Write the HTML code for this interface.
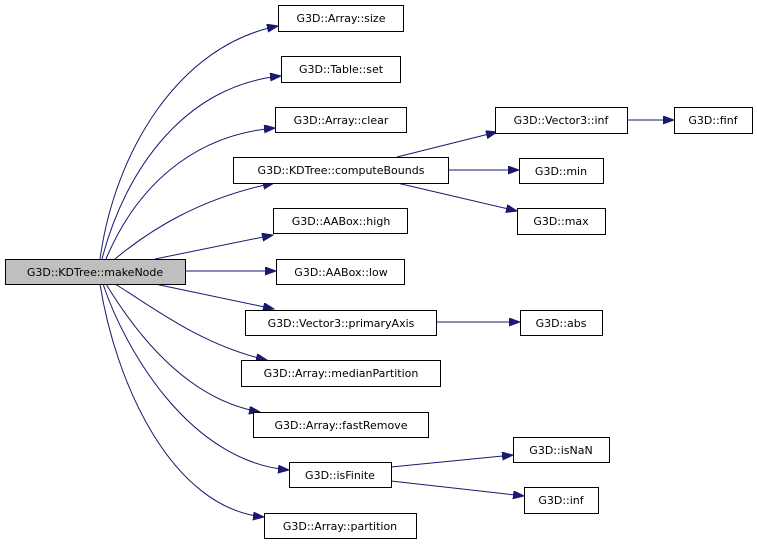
<!DOCTYPE html>
<html><head><meta charset="utf-8"><style>
html,body{margin:0;padding:0;background:#fff;}
svg{display:block;}
text{font-family:"DejaVu Sans","Liberation Sans",sans-serif;font-size:11px;fill:#000;}
rect{stroke:#000;stroke-width:1;fill:#fff;}
path.e{fill:none;stroke:#191970;stroke-width:1;}
</style></head><body>
<svg width="757" height="544" viewBox="0 0 757 544" xmlns="http://www.w3.org/2000/svg">
<defs>
<marker id="a" markerWidth="12" markerHeight="10" refX="11" refY="4" orient="auto" markerUnits="userSpaceOnUse">
<path d="M0,0 L11,4 L0,8 Z" fill="#191970" stroke="#191970"/>
</marker>
</defs>
<g marker-end="url(#a)">
<path class="e" d="M100,259 C115,150 180,45 278,26"/>
<path class="e" d="M102,259 C125,170 185,85 281,76"/>
<path class="e" d="M106,259 C135,190 190,135 275,128"/>
<path class="e" d="M115,259 C150,230 200,198 274,183"/>
<path class="e" d="M155,259 L273,235"/>
<path class="e" d="M185,271 L276,271"/>
<path class="e" d="M155,284 L274,309"/>
<path class="e" d="M115,284 C150,305 200,345 267,360"/>
<path class="e" d="M106,284 C140,340 190,400 260,412"/>
<path class="e" d="M103,284 C125,350 190,462 289,470"/>
<path class="e" d="M100,284 C115,380 170,508 264,517"/>
<path class="e" d="M397,157 L497,132"/>
<path class="e" d="M448,170 L519,170"/>
<path class="e" d="M397,183 L517,211"/>
<path class="e" d="M627,120 L674,120"/>
<path class="e" d="M436,322 L520,322"/>
<path class="e" d="M391,467 L513,455"/>
<path class="e" d="M391,481 L524,496"/>
</g>
<rect x="5.5" y="259.5" width="180" height="25" style="fill:#bfbfbf"/><text x="95" y="276" text-anchor="middle">G3D::KDTree::makeNode</text>
<rect x="278.5" y="5.5" width="125" height="26"/><text x="341" y="22" text-anchor="middle">G3D::Array::size</text>
<rect x="281.5" y="56.5" width="119" height="26"/><text x="341" y="73" text-anchor="middle">G3D::Table::set</text>
<rect x="275.5" y="107.5" width="131" height="25"/><text x="341" y="124" text-anchor="middle">G3D::Array::clear</text>
<rect x="233.5" y="157.5" width="215" height="26"/><text x="341" y="174" text-anchor="middle">G3D::KDTree::computeBounds</text>
<rect x="273.5" y="208.5" width="134" height="25"/><text x="341" y="225" text-anchor="middle">G3D::AABox::high</text>
<rect x="276.5" y="259.5" width="128" height="25"/><text x="341" y="276" text-anchor="middle">G3D::AABox::low</text>
<rect x="245.5" y="310.5" width="191" height="25"/><text x="341" y="327" text-anchor="middle">G3D::Vector3::primaryAxis</text>
<rect x="241.5" y="360.5" width="199" height="26"/><text x="341" y="377" text-anchor="middle">G3D::Array::medianPartition</text>
<rect x="253.5" y="412.5" width="175" height="25"/><text x="341" y="429" text-anchor="middle">G3D::Array::fastRemove</text>
<rect x="289.5" y="462.5" width="102" height="25"/><text x="340" y="479" text-anchor="middle">G3D::isFinite</text>
<rect x="264.5" y="513.5" width="152" height="25"/><text x="340" y="530" text-anchor="middle">G3D::Array::partition</text>
<rect x="495.5" y="107.5" width="132" height="26"/><text x="561" y="124" text-anchor="middle">G3D::Vector3::inf</text>
<rect x="674.5" y="107.5" width="78" height="26"/><text x="713" y="124" text-anchor="middle">G3D::finf</text>
<rect x="519.5" y="158.5" width="84" height="25"/><text x="561" y="175" text-anchor="middle">G3D::min</text>
<rect x="517.5" y="208.5" width="88" height="26"/><text x="561" y="225" text-anchor="middle">G3D::max</text>
<rect x="520.5" y="310.5" width="82" height="25"/><text x="561" y="327" text-anchor="middle">G3D::abs</text>
<rect x="513.5" y="437.5" width="96" height="25"/><text x="561" y="454" text-anchor="middle">G3D::isNaN</text>
<rect x="524.5" y="487.5" width="74" height="26"/><text x="561" y="504" text-anchor="middle">G3D::inf</text>
</svg>
</body></html>
